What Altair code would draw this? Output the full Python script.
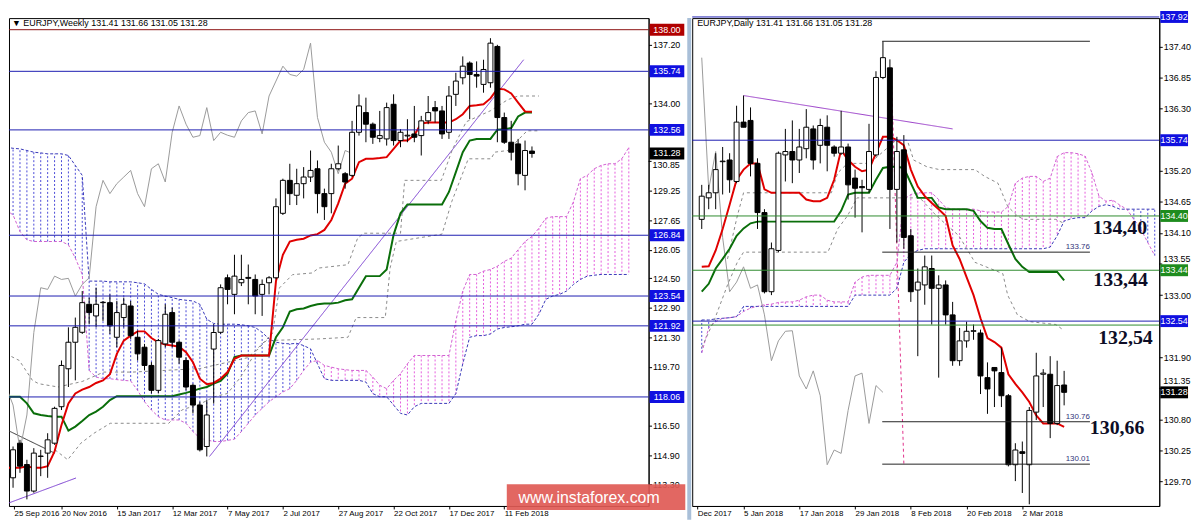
import json
import altair as alt
import pandas as pd

FONT = "Liberation Sans"

# ================= WEEKLY (left panel) =================
W_OPEN = [113.40,113.67,115.55,114.39,112.95,114.83,115.01,115.55,117.53,119.59,
          121.03,121.57,123.09,122.46,123.18,123.18,121.30,122.37,123.00,121.30,
          120.76,119.77,118.42,120.94,122.64,121.03,120.04,118.69,117.62,115.37,
          120.66,121.57,124.53,123.63,124.26,124.55,124.44,123.63,124.26,124.53,
          128.03,129.82,129.01,129.64,130.00,130.45,129.10,129.10,130.45,130.18,
          130.09,132.43,133.50,132.87,132.10,132.07,133.95,131.98,132.23,132.34,
          132.25,133.05,133.77,133.59,132.43,134.49,135.39,136.19,135.57,135.03,
          135.12,137.09,133.23,131.89,131.80,130.09,131.41]
W_HIGH = [114.12,115.37,115.73,114.65,115.28,115.19,116.09,117.53,120.04,121.84,
          122.37,123.81,123.45,123.99,123.27,123.63,123.27,123.45,123.27,121.66,
          120.94,119.95,121.21,123.09,122.91,121.12,120.22,118.78,117.80,117.89,
          122.01,124.17,124.71,125.78,125.78,125.25,124.71,124.44,124.62,128.84,
          129.91,130.72,130.45,130.54,131.44,130.90,129.37,130.72,131.71,130.27,
          133.05,134.49,134.31,132.96,133.59,134.04,134.49,132.60,133.14,133.86,
          133.32,134.40,134.13,133.86,134.94,135.66,136.55,136.28,136.28,136.37,
          137.54,137.18,133.50,133.05,132.07,131.98,131.66]
W_LOW = [113.04,113.13,113.94,112.50,112.86,113.76,113.67,115.46,117.35,118.60,
         118.96,121.48,122.01,121.84,122.19,121.48,120.76,121.84,121.21,120.04,
         119.50,118.25,118.25,120.76,120.76,119.86,118.42,117.17,115.10,114.83,
         117.70,121.48,123.09,122.55,124.08,123.09,122.55,122.46,123.63,124.44,
         127.94,128.48,128.48,128.84,129.73,128.03,127.67,128.03,130.36,129.37,
         130.00,132.25,131.89,131.80,131.89,131.71,131.71,131.62,131.89,131.89,
         131.17,132.87,132.96,132.07,132.07,133.86,135.03,133.14,134.85,134.58,
         134.85,131.89,131.80,130.90,129.55,129.28,131.05]
W_CLOSE = [113.94,115.19,114.30,112.95,115.01,114.85,115.73,117.44,119.77,121.03,
           121.84,123.18,122.64,123.09,123.20,121.92,122.64,123.09,121.39,120.40,
           119.77,118.42,121.12,122.55,121.03,120.22,118.60,117.62,115.19,117.08,
           121.56,123.99,123.90,124.62,124.44,124.50,123.54,124.17,124.53,128.39,
           129.82,129.10,129.64,130.00,130.36,129.10,128.39,130.45,130.72,129.73,
           132.43,133.86,132.87,132.16,132.25,133.77,131.98,132.43,132.27,132.16,
           133.05,133.50,133.59,132.34,134.40,135.21,136.02,135.57,135.48,135.84,
           137.27,133.23,131.89,131.35,130.18,131.44,131.28]
W_TENKAN = [114.21,114.21,114.21,114.30,114.21,114.21,114.30,115.10,116.54,117.71,
            118.25,118.46,118.60,118.82,118.96,119.29,120.40,121.12,121.39,121.62,
            121.62,121.26,121.03,120.90,120.85,120.79,120.49,119.95,119.05,118.75,
            118.82,119.05,119.41,120.13,120.31,120.31,120.31,120.31,120.31,124.35,
            125.78,126.50,126.59,126.65,126.83,126.90,127.13,127.67,128.57,129.64,
            129.91,130.81,130.99,130.99,131.03,131.08,131.53,131.98,131.98,132.28,
            132.91,132.96,132.96,132.96,132.96,133.14,133.41,133.86,133.90,133.95,
            134.27,134.79,134.76,134.54,134.04,133.56,133.54]
W_KIJUN = [118.07,118.07,118.07,117.71,117.17,117.08,117.02,116.99,116.99,116.23,
           116.45,116.75,117.08,117.26,117.53,117.89,118.10,118.10,118.10,118.10,
           118.10,118.10,118.10,118.10,118.10,118.19,118.28,118.39,118.51,118.60,
           118.78,118.93,119.32,120.22,120.31,120.31,120.31,120.31,120.31,121.30,
           121.84,122.70,122.82,122.86,123.00,123.09,123.13,123.13,123.18,123.31,
           123.36,123.99,124.62,124.62,124.62,124.98,126.86,128.03,128.51,128.51,
           128.51,128.51,128.51,128.51,129.19,130.27,131.35,131.98,132.07,132.07,
           132.07,132.57,132.60,132.66,133.29,133.50,133.50]
W_SPAN_A = [128.21,127.94,127.04,126.59,126.50,126.50,126.50,126.50,126.50,126.32,
            125.60,124.71,119.50,119.14,119.05,119.05,119.00,118.96,118.93,118.42,
            117.80,117.35,116.99,116.81,116.81,116.81,116.63,116.18,115.82,115.73,
            115.64,115.64,115.70,115.77,116.18,116.63,117.08,117.44,117.80,118.07,
            118.33,118.51,118.96,119.50,119.95,120.04,119.77,119.68,119.59,119.54,
            119.50,119.50,119.50,119.14,118.69,118.51,118.96,119.32,119.86,120.31,
            120.31,120.31,120.31,120.31,120.31,122.19,123.81,124.71,124.71,124.89,
            124.98,125.16,125.42,125.60,126.05,126.50,126.77,127.22,127.76,127.85,
            127.85,127.85,128.66,129.91,130.09,130.45,130.63,130.72,130.72,131.00,
            131.60]
W_SPAN_B = [131.62,131.56,131.53,131.44,131.35,131.31,131.26,131.26,131.26,131.17,
            130.63,130.09,124.35,124.35,124.35,124.31,124.31,124.31,124.31,124.26,
            124.20,123.90,123.63,123.54,123.45,123.36,123.31,123.27,123.09,122.28,
            122.05,122.01,122.01,122.01,121.98,121.92,121.83,121.57,121.21,121.03,
            120.97,120.94,120.97,120.85,120.67,119.86,119.05,118.96,118.96,118.96,
            118.96,118.96,118.87,118.24,118.07,118.07,117.62,117.17,117.08,117.53,
            117.71,117.71,117.71,117.71,117.71,118.24,119.86,121.30,121.39,121.39,
            121.48,121.75,121.83,121.87,121.92,122.01,122.01,122.55,123.36,123.54,
            123.63,123.81,124.17,124.44,124.62,124.67,124.71,124.71,124.71,124.71,
            124.71]
W_GRAY_UP_IDX = [0,1.9,3.8,4.7,7.5,11,14.1,18.3,28,35,38.5,39.5,41.4,44.2,45.2,49.4,50.8,51.7,
                 57.0,57.6,62.9,64.5,66.5,70,72.5,74,77]
W_GRAY_UP_VAL = [120.40,120.04,118.96,118.78,118.60,118.9,119.41,119.41,119.6,120.2,121.5,123.98,
                 124.70,124.79,125.06,125.24,126.68,126.95,126.95,129.82,129.82,131.5,133.0,133.6,
                 134.2,134.40,134.40]
W_GRAY_LO_IDX = [7.06,8.9,10.8,12.7,15.05,23.5,25.4,28.2,30.1,32.0,33.9,36.2,37.6,45.2,49.4,50.6,
                 54.8,55.5,56.4,63.0,64.4,66.8,70.1,70.6,72.5,75.3,76.9]
W_GRAY_LO_VAL = [115.19,114.65,115.55,116.09,116.63,116.63,117.35,117.71,118.07,118.25,119.14,
                 120.58,121.12,121.21,121.30,122.37,122.37,125.07,126.5,126.9,128.66,130.99,130.99,
                 131.35,131.44,132.51,132.51]
W_LEVELS = [138.00, 135.74, 132.56, 126.84, 123.54, 121.92, 118.06]
W_LEVEL_COLORS = ["#8b1010", "#1c1cb0", "#1c1cb0", "#1c1cb0", "#1c1cb0", "#1c1cb0", "#1c1cb0"]
W_BOX_VALUES = [138.00, 135.74, 132.56, 131.28, 126.84, 123.54, 121.92, 118.06]
W_BOX_COLORS = ["#b00000", "#1010e0", "#1010e0", "#000000", "#1010e0", "#1010e0", "#1010e0", "#1010e0"]
W_YTICKS = [137.20, 134.00, 129.25, 127.65, 126.05, 124.50, 122.90, 121.30, 119.70,
            116.50, 114.90, 113.30]
W_YTICKS_NUDGED = [130.85]
W_DATE_IDX = [0, 8, 16, 24, 32, 40, 48, 56, 64, 72]
W_DATE_LABELS = ["25 Sep 2016", "20 Nov 2016", "15 Jan 2017", "12 Mar 2017", "7 May 2017",
                 "2 Jul 2017", "27 Aug 2017", "22 Oct 2017", "17 Dec 2017", "11 Feb 2018"]
W_TRENDS = {"x0": [29.4, 0, 0], "y0": [114.83, 112.25, 116.29],
            "x1": [74.8, 10.1, 7.06], "y1": [136.37, 113.66, 115.00],
            "col": ["#7a3fd0", "#7a3fd0", "#333333"], "dash": ["solid", "solid", "solid"]}

# ================= DAILY (right panel) =================
D_OPEN = [134.34,134.72,134.81,135.36,135.39,135.01,136.06,136.09,135.33,134.46,
          133.06,133.79,135.48,135.54,135.39,135.59,135.94,135.65,135.97,135.62,
          135.51,135.62,135.07,134.92,134.87,135.48,136.85,137.02,134.87,135.57,
          134.05,133.09,133.18,133.47,133.12,133.18,132.65,131.84,132.19,132.36,
          132.33,131.54,131.72,131.63,131.22,130.00,130.23,130.00,130.93,131.60,
          131.60,130.73,131.41]
D_HIGH = [134.95,134.95,135.51,135.62,135.51,136.35,136.53,136.32,135.42,134.52,
          133.93,135.54,135.94,136.09,135.94,136.29,136.00,136.12,136.18,135.65,
          136.26,135.68,135.22,135.04,136.03,136.96,137.49,137.17,135.80,135.83,
          134.17,133.47,133.70,133.70,133.35,133.26,132.88,132.42,132.53,132.48,
          132.39,131.81,131.72,132.07,131.25,130.38,130.41,131.02,131.98,131.69,
          131.92,131.84,131.66]
D_LOW = [134.17,134.52,134.52,134.78,134.81,134.98,135.97,135.10,134.17,133.03,
         133.00,133.76,135.01,134.98,135.16,135.42,135.22,135.33,135.19,135.45,
         135.48,134.69,134.37,134.11,134.81,135.45,136.82,134.17,133.93,133.82,
         132.88,131.92,132.83,132.48,131.54,132.48,131.75,131.75,132.07,132.21,
         131.25,130.90,131.02,131.02,129.97,129.71,129.50,129.30,130.79,131.02,
         130.47,130.70,131.05]
D_CLOSE = [134.75,134.81,135.22,135.37,135.04,136.06,135.97,135.33,134.46,133.06,
           133.82,135.51,135.54,135.39,135.62,135.97,135.39,136.00,135.65,135.51,
           135.62,134.95,134.89,134.90,135.54,136.85,137.20,134.87,135.54,134.02,
           133.06,133.23,133.50,133.12,133.18,132.65,131.84,132.19,132.36,132.37,
           131.57,131.34,131.66,131.22,130.00,130.26,130.20,130.96,131.57,131.62,
           130.73,131.40,131.28]
D_TENKAN = [133.50,133.51,133.79,134.17,134.60,135.04,135.22,135.33,135.33,134.87,
            134.81,134.81,134.81,134.81,134.81,134.69,134.66,134.66,134.72,135.04,
            135.57,135.39,135.27,135.19,135.22,135.51,135.80,135.80,135.74,135.65,
            135.22,134.92,134.75,134.63,134.52,134.40,133.88,133.64,133.32,133.00,
            132.59,132.24,132.17,132.07,131.60,131.43,131.28,131.11,130.87,130.73,
            130.73,130.73,130.67]
D_KIJUN = [133.06,133.20,133.47,133.64,133.82,134.05,134.18,134.27,134.30,134.30,
           134.30,134.30,134.30,134.30,134.30,134.30,134.30,134.30,134.30,134.30,
           134.49,134.78,134.81,134.81,134.81,135.04,135.25,135.27,135.27,135.25,
           134.98,134.72,134.72,134.72,134.55,134.52,134.52,134.52,134.52,134.49,
           134.31,134.19,134.17,134.17,133.90,133.64,133.50,133.41,133.41,133.41,
           133.41,133.41,133.26]
D_SPAN_A = [131.98,132.42,132.53,132.59,132.60,132.62,132.71,132.77,132.80,132.83,
            132.84,132.87,132.88,132.88,132.91,132.97,133.00,133.00,132.91,132.88,
            132.88,132.88,133.23,133.32,133.35,133.35,133.35,133.35,133.58,134.69,
            134.78,134.81,134.81,134.81,134.69,134.55,134.52,134.52,134.52,134.52,
            134.49,134.47,134.47,134.47,134.57,134.98,135.07,135.10,135.10,135.01,
            135.07,135.45,135.52,135.52,135.50,135.46,135.16,134.75,134.66,134.68,
            134.59,134.52,134.34,134.17,133.93,133.70]
D_SPAN_B = [132.56,132.56,132.58,132.59,132.60,132.62,132.80,132.80,132.80,132.80,
            132.80,132.80,132.80,132.80,132.80,132.80,132.80,132.80,132.80,132.80,
            132.80,132.80,133.00,133.00,133.00,133.00,133.00,133.00,133.12,133.58,
            133.73,133.79,133.82,133.82,133.82,133.82,133.82,133.82,133.82,133.82,
            133.82,133.82,133.82,133.82,133.82,133.82,133.82,133.82,133.82,133.82,
            133.85,134.05,134.31,134.35,134.37,134.37,134.49,134.57,134.60,134.57,
            134.52,134.52,134.52,134.52,134.52,134.52]
D_GRAY1_IDX = [3.7,5.1,6.0,18.6,19.5,20.9,24.1,27.9,29.5,30.4,32.3,34.1,39.2,40.6,42.5,43.9,45.3,46.2,50.8,51.8]
D_GRAY1_VAL = [133.64,134.40,134.81,134.81,135.16,135.33,135.33,135.74,135.74,135.39,135.27,135.22,
               135.22,135.10,134.98,134.57,134.40,134.34,134.34,134.28]
D_GRAY2_IDX = [0,1.9,3.7,5.1,6.0,18.1,19.5,20.9,22.3,27.4,31.3,33.7,36.9,39.2,42.0,43.2,43.9,45.3,47.1,50.8,51.8]
D_GRAY2_VAL = [132.07,132.59,133.18,133.58,133.76,133.76,134.17,134.40,134.72,134.72,134.72,134.40,
               134.05,133.58,133.44,133.38,133.00,132.65,132.53,132.48,132.39]
D_LEVELS = [137.92, 135.74, 134.40, 133.44, 132.54, 132.47]
D_LEVEL_COLORS = ["#1c1cb0", "#1c1cb0", "#2e8b2e", "#2e8b2e", "#1c1cb0", "#2e8b2e"]
D_BOX_VALUES = [137.92, 135.74, 134.40, 133.44, 132.54, 131.28]
D_BOX_COLORS = ["#1010e0", "#1010e0", "#1e8c1e", "#1e8c1e", "#1010e0", "#000000"]
D_YTICKS = [137.40, 136.85, 136.30, 135.20, 134.65, 134.10, 133.00, 131.90,
            130.80, 130.25, 129.70]
D_YTICKS_NUDGED = [133.55, 131.35]
D_DATE_IDX = [-2, 6, 14, 22, 30, 38, 46]
D_DATE_LABELS = ["Dec 2017", "5 Jan 2018", "17 Jan 2018", "29 Jan 2018", "8 Feb 2018",
                 "20 Feb 2018", "2 Mar 2018"]
D_SEG_VALUES = [137.49, 133.76, 130.76, 130.01]
D_SEG_FROM = 25.9
D_SEG_TO = 55.7
D_SEG_TEXT = ["", "133.76", "130.76", "130.01"]
D_BIG_TEXT = ["134,40", "133,44", "132,54", "130,66"]
D_BIG_X = [60.0, 60.1, 60.8, 59.6]
D_BIG_Y = [134.18, 133.26, 132.24, 130.64]
D_TRENDS = {"x0": [6.0, 27.2], "y0": [136.53, 136.91], "x1": [36.0, 29.0], "y1": [135.94, 130.02],
            "col": ["#9a3fc8", "#e0308a"], "dash": ["solid", "dash"]}

LW, RW, PH = 645, 471, 492
W_XDOM = [8 / 7.087, 653 / 7.087]
D_XDOM = [-0.655, 64.94]
W_YDOM = [112.14, 138.63]
D_YDOM = [129.27, 137.90]


def x_axis(vals, labels, first):
    expr = f"{json.dumps(labels)}[round((datum.value - ({first}))/8)]"
    return alt.Axis(values=vals, labelExpr=expr, title=None, orient="bottom", labelAlign="left",
                    labelBaseline="top", labelPadding=1, tickSize=3, labelFontSize=8,
                    labelFont=FONT, labelColor="black", tickColor="black", domainColor="black",
                    labelOverlap=False, labelFlush=False, labelBound=False, grid=False)


def y_axis(vals):
    return alt.Axis(values=vals, format=".2f", orient="right", title=None, tickSize=3,
                    labelPadding=1, labelFontSize=9, labelFont=FONT, labelColor="black",
                    tickColor="black", domainColor="black", grid=False, labelOverlap=False,
                    labelFlush=False)


class Panel:
    def __init__(self, xdom, ydom, xaxis, yaxis):
        self.xs = alt.Scale(domain=xdom, nice=False, zero=False)
        self.ys = alt.Scale(domain=ydom, nice=False, zero=False)
        self.xaxis = xaxis
        self.yaxis = yaxis

    def X(self, f):
        return alt.X(f, type="quantitative", scale=self.xs, axis=self.xaxis)

    def Y(self, f):
        return alt.Y(f, type="quantitative", scale=self.ys, axis=self.yaxis)


def ichimoku_layers(P, o, h, l, c, ten, kij, spa, spb, grays, bar_size):
    n = len(o)
    cdf = pd.DataFrame({"i": list(range(n)), "o": o, "h": h, "l": l, "c": c})
    cdf["fill"] = ["#ffffff" if cc >= oo else "#000000" for oo, cc in zip(o, c)]
    kdf = pd.DataFrame({"i": list(range(len(spa))), "a": spa, "b": spb})
    kdf["col"] = ["#e040d8" if a >= b else "#2a2ad0" for a, b in zip(spa, spb)]

    hatch = alt.Chart(kdf).mark_rule(strokeDash=[2, 2], strokeWidth=1, clip=True, opacity=0.85).encode(
        x=P.X("i"), y=P.Y("a"), y2="b:Q", color=alt.Color("col:N", scale=None))
    lineA = alt.Chart(kdf).mark_line(strokeDash=[3, 2], strokeWidth=1, color="#d060d0", clip=True).encode(
        x=P.X("i"), y=P.Y("a"))
    lineB = alt.Chart(kdf).mark_line(strokeDash=[3, 2], strokeWidth=1, color="#3838b8", clip=True).encode(
        x=P.X("i"), y=P.Y("b"))
    grows = []
    for g, (gi, gv) in enumerate(grays):
        for a, b in zip(gi, gv):
            grows.append({"i": a, "v": b, "g": g})
    gdf = pd.DataFrame(grows)
    gray = alt.Chart(gdf).mark_line(strokeDash=[3, 3], strokeWidth=1, color="#8a8a8a", clip=True).encode(
        x=P.X("i"), y=P.Y("v"), detail="g:N")
    chdf = pd.DataFrame({"i": list(range(n - 26)), "v": c[26:]})
    chikou = alt.Chart(chdf).mark_line(strokeWidth=1, color="#9a9a9a", clip=True).encode(x=P.X("i"), y=P.Y("v"))
    kdf2 = pd.DataFrame({"i": list(range(n)), "v": kij})
    kijun = alt.Chart(kdf2).mark_line(strokeWidth=2, color="#0a6e0a", clip=True).encode(x=P.X("i"), y=P.Y("v"))
    tdf = pd.DataFrame({"i": list(range(n)), "v": ten})
    tenkan = alt.Chart(tdf).mark_line(strokeWidth=2, color="#e00000", clip=True).encode(x=P.X("i"), y=P.Y("v"))
    wick = alt.Chart(cdf).mark_rule(color="black", strokeWidth=1, clip=True).encode(
        x=P.X("i"), y=P.Y("l"), y2="h:Q")
    body = alt.Chart(cdf).mark_bar(size=bar_size, stroke="black", strokeWidth=1, clip=True).encode(
        x=P.X("i"), y=P.Y("o"), y2="c:Q", fill=alt.Fill("fill:N", scale=None))
    return [hatch, lineA, lineB, gray, chikou, kijun, tenkan, wick, body]


def level_layers(P, levels, colors, boxes, box_colors, W, box_w):
    ldf = pd.DataFrame({"v": levels, "col": colors})
    rules = alt.Chart(ldf).mark_rule(strokeWidth=1).encode(
        y=P.Y("v"), color=alt.Color("col:N", scale=None))
    bdf = pd.DataFrame({"v": boxes, "col": box_colors, "t": [f"{v:.2f}" for v in boxes]})
    hh = 6.0 / (box_w / 2.0)
    shape = f"M-1,-{hh:.3f}L1,-{hh:.3f}L1,{hh:.3f}L-1,{hh:.3f}Z"
    cx = W + 1 + box_w / 2.0
    box = alt.Chart(bdf).mark_point(shape=shape, size=box_w ** 2, filled=True, opacity=1, strokeWidth=0).encode(
        x=alt.value(cx), y=P.Y("v"), color=alt.Color("col:N", scale=None))
    txt = alt.Chart(bdf).mark_text(fontSize=9, font=FONT, color="white", align="center", baseline="middle").encode(
        x=alt.value(cx), y=P.Y("v"), text="t:N")
    return [rules, box, txt]


def nudged_ticks(P, vals, shifts, W):
    """Axis ticks whose labels sit next to a price box; the label is moved clear of the box."""
    out = []
    tdf = pd.DataFrame({"v": vals})
    out.append(alt.Chart(tdf).mark_rule(color="black", strokeWidth=1).encode(
        x=alt.value(W), x2=alt.value(W + 3), y=P.Y("v")))
    for v, s in zip(vals, shifts):
        d = pd.DataFrame({"v": [v], "t": [f"{v:.2f}"]})
        out.append(alt.Chart(d).mark_text(fontSize=9, font=FONT, color="black", align="left",
                                          baseline="middle", dy=s).encode(
            x=alt.value(W + 4), y=P.Y("v"), text="t:N"))
    return out


def trend_layer(P, tr):
    tdf = pd.DataFrame(tr)
    return alt.Chart(tdf).mark_rule(strokeWidth=1, clip=True).encode(
        x=P.X("x0"), y=P.Y("y0"), x2="x1:Q", y2="y1:Q", color=alt.Color("col:N", scale=None),
        strokeDash=alt.StrokeDash("dash:N", scale=alt.Scale(domain=["solid", "dash"], range=[[1, 0], [3, 3]]),
                                  legend=None))


one = pd.DataFrame({"k": [0]})

# ---------- left panel ----------
w_xvals = [max(v, W_XDOM[0] + 0.01) for v in W_DATE_IDX]
WP = Panel(W_XDOM, W_YDOM, x_axis(w_xvals, W_DATE_LABELS, W_DATE_IDX[0]), y_axis(W_YTICKS))
left_layers = ichimoku_layers(WP, W_OPEN, W_HIGH, W_LOW, W_CLOSE, W_TENKAN, W_KIJUN, W_SPAN_A, W_SPAN_B,
                              [(W_GRAY_UP_IDX, W_GRAY_UP_VAL), (W_GRAY_LO_IDX, W_GRAY_LO_VAL)], 5)
left_layers.insert(1, trend_layer(WP, W_TRENDS))
left_layers += nudged_ticks(WP, W_YTICKS_NUDGED, [4], LW)
left_layers += level_layers(WP, W_LEVELS, W_LEVEL_COLORS, W_BOX_VALUES, W_BOX_COLORS, LW, 35)
left_layers.append(alt.Chart(one).mark_text(fontSize=9, font=FONT, align="left", baseline="top", color="black").encode(
    x=alt.value(3), y=alt.value(1), text=alt.value("\u25bc EURJPY,Weekly  131.41 131.66 131.05 131.28")))
left_layers.append(alt.Chart(one).mark_rule(color="#a9bfd8", strokeWidth=4).encode(
    x=alt.value(LW + 41), y=alt.value(0), y2=alt.value(PH + 14)))
left_layers.append(alt.Chart(one).mark_rect(color="#e05a55", opacity=0.92).encode(
    x=alt.value(502), x2=alt.value(682), y=alt.value(470), y2=alt.value(496)))
left_layers.append(alt.Chart(one).mark_text(fontSize=16, font=FONT, color="white", align="center", baseline="middle").encode(
    x=alt.value(585), y=alt.value(484), text=alt.value("www.instaforex.com")))
left = alt.layer(*left_layers).properties(width=LW, height=PH)

# ---------- right panel ----------
d_xvals = [max(v, D_XDOM[0] + 0.01) for v in D_DATE_IDX]
DP = Panel(D_XDOM, D_YDOM, x_axis(d_xvals, D_DATE_LABELS, D_DATE_IDX[0]), y_axis(D_YTICKS))
right_layers = ichimoku_layers(DP, D_OPEN, D_HIGH, D_LOW, D_CLOSE, D_TENKAN, D_KIJUN, D_SPAN_A, D_SPAN_B,
                               [(D_GRAY1_IDX, D_GRAY1_VAL), (D_GRAY2_IDX, D_GRAY2_VAL)], 5)
right_layers.insert(1, trend_layer(DP, D_TRENDS))
sdf = pd.DataFrame({"v": D_SEG_VALUES, "x0": [D_SEG_FROM] * 4, "x1": [D_SEG_TO] * 4, "t": D_SEG_TEXT})
right_layers.append(alt.Chart(sdf).mark_rule(color="#222222", strokeWidth=1).encode(
    x=DP.X("x0"), x2="x1:Q", y=DP.Y("v")))
right_layers.append(alt.Chart(sdf).mark_text(fontSize=8, font=FONT, color="#33337a", align="right", baseline="bottom", dy=-1).encode(
    x=DP.X("x1"), y=DP.Y("v"), text="t:N"))
right_layers += nudged_ticks(DP, D_YTICKS_NUDGED, [-5, -7], RW)
right_layers += level_layers(DP, D_LEVELS, D_LEVEL_COLORS, D_BOX_VALUES, D_BOX_COLORS, RW, 28)
bdf = pd.DataFrame({"x": D_BIG_X, "y": D_BIG_Y, "t": D_BIG_TEXT})
right_layers.append(alt.Chart(bdf).mark_text(fontSize=20, font="Liberation Serif", fontWeight="bold",
                                             color="#0d0d26", align="center", baseline="middle").encode(
    x=DP.X("x"), y=DP.Y("y"), text="t:N"))
right_layers.append(alt.Chart(one).mark_text(fontSize=9, font=FONT, align="left", baseline="top", color="black").encode(
    x=alt.value(5), y=alt.value(1), text=alt.value("EURJPY,Daily  131.41 131.66 131.05 131.28")))
right = alt.layer(*right_layers).properties(width=RW, height=PH)

chart = alt.hconcat(left, right, spacing=44, bounds="flush", padding=0, background="white").configure_view(
    stroke="black", strokeWidth=1)

chart.save("out.html", embed_options={"renderer": "svg", "actions": False})
